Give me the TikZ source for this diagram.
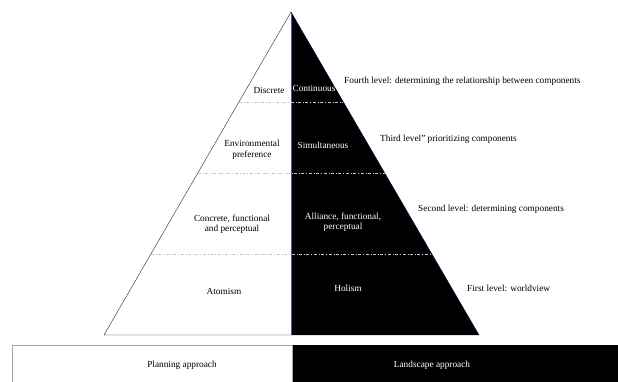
\documentclass[tikz,border=0pt]{standalone}
\usepackage{fontspec}
\setmainfont{Liberation Serif}
\usetikzlibrary{calc}
\usetikzlibrary{positioning}

\begin{document}
\begin{tikzpicture}[x=1pt,y=-1pt,font=\fontsize{9.3}{10.5}\selectfont]
	\tikzstyle{lbl}=[align=center, inner sep=1pt]
	\tikzstyle{wlbl}=[lbl, text=white]
	\tikzstyle{lvl}=[anchor=west, inner sep=0pt]
	\tikzstyle{sep}=[gray!45, dash dot, thin]
	\useasboundingbox (0,0) rectangle (618,382);
	\coordinate (top) at (291,12);
	\coordinate (bl) at (104,335);
	\coordinate (br) at (479,335);
	\coordinate (bm) at (291,335);
	% pyramid
	\fill[black] (top) -- (br) -- (bm) -- cycle;
	\draw[thin, black!85] (top) -- (bl) -- (bm);
	\draw[thin, blue!35!gray] (top) -- (bm);
	\draw[thin, blue!35!black] (top) -- (br);
	\draw[sep] ($(top)!0.279!(bl)$) -- ($(top)!0.279!(br)$);
	\draw[sep] ($(top)!0.498!(bl)$) -- ($(top)!0.498!(br)$);
	\draw[sep] ($(top)!0.749!(bl)$) -- ($(top)!0.749!(br)$);
	% labels
	\node[lbl]  (discrete) at (269,90)  {Discrete};
	\node[wlbl] (contin)   at (314,88)  {Continuous};
	\node[lbl]  (envpref)  at (252,150) {Environmental\\preference};
	\node[wlbl] (simult)   at (323,145) {Simultaneous};
	\node[lbl]  (concrete) at (232,224) {Concrete, functional\\and perceptual};
	\node[wlbl] (alliance) at (343,222) {Alliance, functional,\\perceptual};
	\node[lbl]  (atomism)  at (224,291) {Atomism};
	\node[wlbl] (holism)   at (348,288) {Holism};
	\node[lvl]  (lvlfour)  at (344,81)  {Fourth level: determining the relationship between components};
	\node[lvl]  (lvlthree) at (380,139) {Third level'' prioritizing components};
	\node[lvl]  (lvltwo)   at (418,209) {Second level: determining components};
	\node[lvl]  (lvlone)   at (467,288) {First level: worldview};
	% approach boxes
	\draw[gray!70, line width=1pt, fill=white] (12,345) rectangle (292,386);
	\fill[black] (293,345) rectangle (620,386);
	\node[lbl]  (planning)  at (182,365) {Planning approach};
	\node[wlbl] (landscape) at (432,365) {Landscape approach};
\end{tikzpicture}
\end{document}
